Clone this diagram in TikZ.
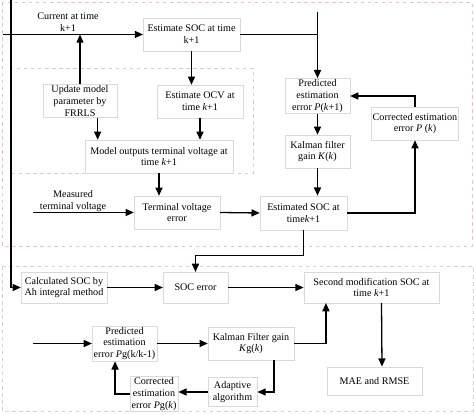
\documentclass[tikz,border=0pt]{standalone}
\usepackage{fontspec}
\setmainfont{Liberation Serif}
\usepackage{xcolor}
\usepackage{tikz}
\usetikzlibrary{arrows.meta}
\usetikzlibrary{calc}
\definecolor{pinkline}{RGB}{240,190,206}

\begin{document}
\begin{tikzpicture}[
x=0.85pt, y=-0.85pt,
blocknode/.style={rectangle, draw=gray!30, fill=white, thin, minimum height=28pt, inner sep=1pt, align=center, font=\fontsize{8.6pt}{10pt}\selectfont},
labelnode/.style={align=center, inner sep=1pt, font=\fontsize{8.6pt}{10pt}\selectfont},
arrowline/.style={line width=1.1pt, -{Triangle[length=7pt,width=6pt]}},
plainline/.style={line width=1.1pt},
pinkframe/.style={draw=pinkline, dashed, line width=0.8pt},
grayframe/.style={draw=gray!35, dashed, line width=0.8pt},
]
\useasboundingbox (0,0) rectangle (474,415);

%Frames
\draw[pinkframe] (2,2) rectangle (472,246);
\draw[grayframe] (2,266) rectangle (473,411);
\draw[grayframe] (11,68) rectangle (253,173);

%Nodes
\node[blocknode, minimum width=82pt]					(soc)	at (191.5,34.5)	{Estimate SOC at time\\k+1};
\node[blocknode, minimum width=63pt, minimum height=27pt]	(upd)	at (80,101)		{Update model\\parameter by\\FRRLS};
\node[blocknode, minimum width=73pt]					(ocv)	at (200,101.5)	{Estimate OCV at\\time \textit{k}+1};
\node[blocknode, minimum width=126pt]					(mod)	at (159,156.5)	{Model outputs terminal voltage at\\time \textit{k}+1};
\node[blocknode, minimum width=73pt]					(tve)	at (177,212.5)	{Terminal voltage\\error};
\node[blocknode, minimum width=74pt, minimum height=29pt]	(est)	at (303.5,213)	{Estimated SOC at\\time\textit{k}+1};
\node[blocknode, minimum width=55pt, minimum height=29pt]	(pre)	at (317.5,96)	{Predicted\\estimation\\error \textit{P}(\textit{k}+1)};
\node[blocknode, minimum width=55pt]					(kal)	at (317.5,151.5)	{Kalman filter\\gain \textit{K}(\textit{k})};
\node[blocknode, minimum width=73pt]					(cor)	at (415,123.5)	{Corrected estimation\\error \textit{P} (\textit{k})};
\node[blocknode, minimum width=73pt, minimum height=26pt]	(ah)	at (64,287.5)	{Calculated SOC by\\Ah integral method};
\node[blocknode, minimum width=55pt, minimum height=26pt]	(serr)	at (195.5,287.5)	{SOC error};
\node[blocknode, minimum width=115pt, minimum height=26pt]	(sec)	at (371.5,287.5)	{Second modification SOC at\\time \textit{k}+1};
\node[blocknode, minimum width=55pt]					(prg)	at (124.5,343.5)	{Predicted\\estimation\\error \textit{P}g(k/k-1)};
\node[blocknode, minimum width=73pt]					(kg)	at (251,343.5)	{Kalman Filter gain\\\textit{K}g(\textit{k})};
\node[blocknode, minimum width=41pt, minimum height=30pt]	(cpg)	at (154,394)	{Corrected\\estimation\\error \textit{P}g(\textit{k})};
\node[blocknode, minimum width=42pt, minimum height=25pt]	(ada)	at (232.5,392)	{Adaptive\\algorithm};
\node[blocknode, minimum width=81pt, minimum height=24pt]	(mae)	at (374.5,381)	{MAE and RMSE};

\node[labelnode]	(curlabel)	at (68,22)		{Current at time\\k+1};
\node[labelnode]	(meslabel)	at (73,201)		{Measured\\terminal voltage};

\coordinate (leftin)	at (11,0);
\coordinate (curin)		at (3,34.5);
\coordinate (prein)		at (317.5,12);
\coordinate (mesin)		at (33,212.5);
\coordinate (prgin)		at (33,343.5);

%Lines
\draw[arrowline] (leftin) |- (ah.west);
\draw[arrowline] (curin) -- (soc.west);
\draw[arrowline] (upd.north) -- (upd.north |- curin);
\draw[arrowline] (soc.south) -- (soc.south |- ocv.north);
\draw[arrowline] ([xshift=15pt]upd.south) -- ([xshift=15pt]upd.south |- mod.north);
\draw[arrowline] (ocv.south) -- (ocv.south |- mod.north);
\draw[arrowline] (mod.south) -- (mod.south |- tve.north);
\draw[arrowline] (mesin) -- (tve.west);
\draw[arrowline] (tve.east) -- (est.west);
\draw[plainline] (soc.east) -- (soc.east -| prein);
\draw[arrowline] (prein) -- (pre.north);
\draw[arrowline] (pre.south) -- (kal.north);
\draw[arrowline] (kal.south) -- (kal.south |- est.north);
\draw[arrowline] (est.east) -| (cor.south);
\draw[arrowline] (cor.north) |- (pre.east);
\draw[arrowline] (est.south) -- ++(0,25) -| (serr.north);
\draw[arrowline] (ah.east) -- (serr.west);
\draw[arrowline] (serr.east) -- (sec.west);
\draw[arrowline] ($(sec.south)+(10,0)$) -- ($(mae.north)+(7.5,0)$);
\draw[arrowline] (prgin) -- (prg.west);
\draw[arrowline] (prg.east) -- (kg.west);
\draw[arrowline] (kg.east) -| ([xshift=-38.7pt]sec.south);
\draw[arrowline] ([xshift=19.5pt]kg.south) |- (ada.east);
\draw[arrowline] (ada.west) -- (ada.west -| cpg.east);
\draw[arrowline] (cpg.west) -| ([xshift=-8pt]prg.south);
\end{tikzpicture}
\end{document}
